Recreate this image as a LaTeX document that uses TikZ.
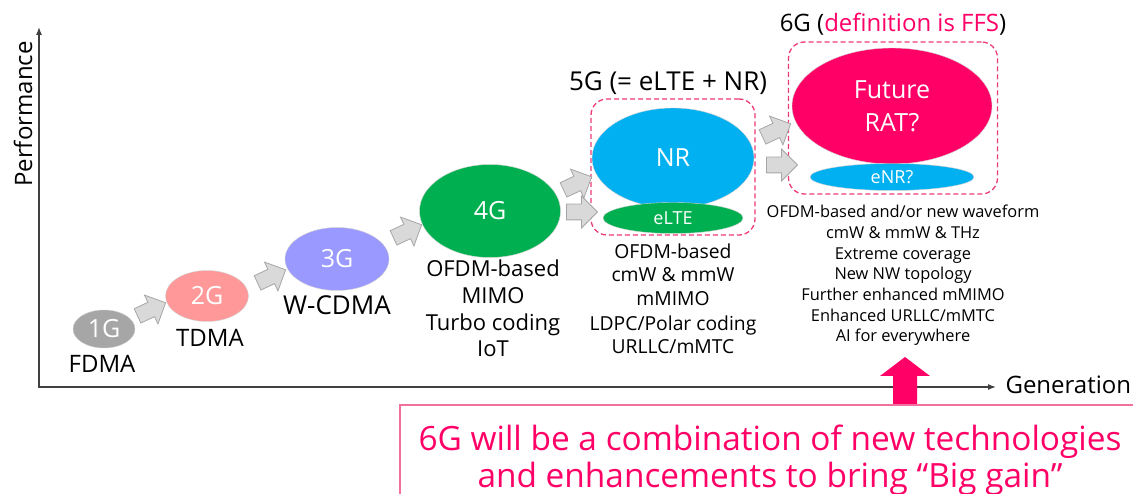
\documentclass[tikz,border=0pt]{standalone}
\usepackage{fontspec}
\setmainfont{Open Sans}
\usetikzlibrary{shapes.geometric, shapes.arrows, arrows.meta, positioning}

\definecolor{gOne}{HTML}{A6A6A6}
\definecolor{gTwo}{HTML}{FF9999}
\definecolor{gThree}{HTML}{9999FF}
\definecolor{lteGreen}{HTML}{00B050}
\definecolor{nrBlue}{HTML}{00B0F0}
\definecolor{ratPink}{HTML}{FF0066}
\definecolor{dashPink}{HTML}{EC3A78}
\definecolor{boxPink}{HTML}{F2709E}

\tikzset{
  % --- Generationen -----------------------------------------
  gen/.style={draw=black!18, ellipse, inner sep=0pt, text=white,
    font=\fontsize{25}{30}\selectfont},
  genlab/.style={anchor=base, font=\fontsize{24}{28}\selectfont},
  techlist/.style={anchor=base, align=center},
  % --- Pfeile -----------------------------------------------
  stepar/.style={single arrow, draw=black!35, fill=black!15, line width=0.8pt,
    text height=15pt, text depth=0pt, minimum height=31pt,
    single arrow head extend=8pt, inner sep=0pt},
  grpbox/.style={draw=dashPink, dash pattern=on 5pt off 3pt, line width=1.3pt,
    rounded corners=16pt, inner sep=0pt},
  axis/.style={{Latex[length=8pt,width=6pt]}-{Latex[length=8pt,width=6pt]},
    line width=1.2pt, draw=black!75},
  axlabel/.style={font=\fontsize{24}{28}\selectfont}
}

\begin{document}
\begin{tikzpicture}[x=1pt, y=-1pt]
  \clip (0,0) rectangle (1133,494);

  % --- Achsen ------------------------------------------------------
  \coordinate (O) at (39,387);
  \coordinate (ytop) at (39,27);
  \coordinate (xend) at (996,387);
  \draw[axis] (ytop) -- (O) -- (xend);
  \node[axlabel, anchor=west] (genax) at ([xshift=6pt,yshift=2pt]xend) {Generation};
  \node[axlabel, rotate=90] (perf) at (23,114) {Performance};

  % --- 1G bis 4G ---------------------------------------------------
  \node[gen, fill=gOne, minimum width=62pt, minimum height=38pt] (g1) at (104,329) {1G};
  \node[gen, fill=gTwo, minimum width=83pt, minimum height=51pt] (g2) at (207,296) {2G};
  \node[gen, fill=gThree, minimum width=104pt, minimum height=63pt] (g3) at (337,259) {3G};
  \node[gen, fill=lteGreen, minimum width=141pt, minimum height=93pt] (g4) at (490,211) {4G};

  \node[genlab] (fdma) at (102,373) {FDMA};
  \node[genlab] (tdma) at (210,347) {TDMA};
  \node[genlab, font=\fontsize{26}{30}\selectfont] (wcdma) at (337,315) {W-CDMA};
  % base = Grundlinie der letzten Zeile
  \node[techlist, font=\fontsize{22}{27}\selectfont] (t4) at (493,357)
    {OFDM-based\\MIMO\\Turbo coding\\IoT};

  \node[stepar, rotate=25] (a12) at (148,311) {};
  \node[stepar, rotate=25] (a23) at (268,278) {};
  \node[stepar, rotate=25] (a34) at (404,233) {};

  % --- 5G ----------------------------------------------------------
  \node[grpbox, minimum width=164pt, minimum height=136pt] (box5) at (673,167) {};
  \node[axlabel, anchor=base, font=\fontsize{26}{30}\selectfont] (t5head) at (668,91) {5G (= eLTE + NR)};
  \node[gen, fill=nrBlue, minimum width=162pt, minimum height=100pt] (nr) at (673,158) {NR};
  \node[gen, fill=lteGreen, minimum width=140pt, minimum height=31pt,
    font=\fontsize{18}{22}\selectfont] (elte) at (673,218) {eLTE};
  \node[techlist, font=\fontsize{19.3}{24}\selectfont] (t5) at (673,354)
    {OFDM-based\\cmW \& mmW\\mMIMO\\LDPC/Polar coding\\URLLC/mMTC};

  \node[stepar, rotate=25] (a45u) at (574,185) {};
  \node[stepar] (a45h) at (578,212) {};

  % --- 6G ----------------------------------------------------------
  \node[grpbox, minimum width=209pt, minimum height=152pt] (box6) at (893,118) {};
  \node[axlabel, anchor=base] (t6head) at (893,32) {6G (\textcolor{ratPink}{definition is FFS})};
  \node[gen, fill=ratPink, minimum width=200pt, minimum height=116pt, align=center,
    font=\fontsize{25}{33}\selectfont] (rat) at (892,106) {Future\\RAT?};
  \node[gen, fill=nrBlue, minimum width=164pt, minimum height=27pt,
    font=\fontsize{18}{22}\selectfont] (enr) at (892,177) {eNR?};
  \node[techlist, font=\fontsize{16.4}{20.7}\selectfont] (t6) at (903,342)
    {OFDM-based and/or new waveform\\cmW \& mmW \& THz\\Extreme coverage\\New NW topology\\Further enhanced mMIMO\\Enhanced URLLC/mMTC\\AI for everywhere};

  \node[stepar, rotate=25] (a56u) at (773,132) {};
  \node[stepar] (a56h) at (778,165) {};

  % --- Fazit ---------------------------------------------------------
  \fill[ratPink] (893,404) -- (893,376) -- (880,376) -- (905,357)
    -- (930,376) -- (917,376) -- (917,404) -- cycle;
  \draw[boxPink, line width=1.6pt] (400,520) -- (400,405) -- (1150,405);
  \node[techlist, text=ratPink, font=\fontsize{33.4}{37}\selectfont] (gain) at (770,487)
    {6G will be a combination of new technologies\\and enhancements to bring “Big gain”};

\end{tikzpicture}
\end{document}
